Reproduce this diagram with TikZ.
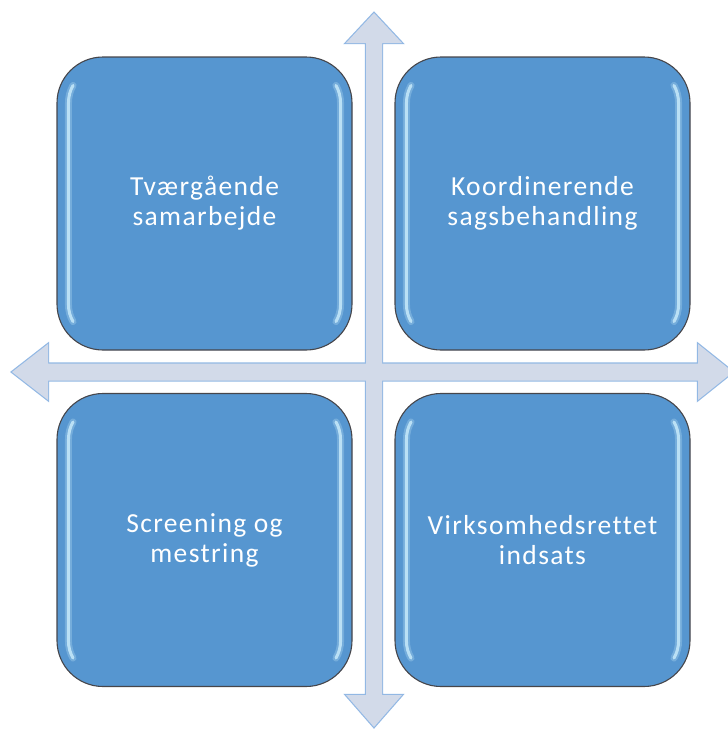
\documentclass[tikz,border=0pt]{standalone}
\usepackage{fontspec}
\setmainfont{Carlito}[LetterSpace=5, Ligatures={NoCommon}]
\definecolor{boxblue}{RGB}{86,150,208}
\definecolor{arrfill}{RGB}{210,218,233}
\definecolor{arredge}{RGB}{146,184,228}
\definecolor{shine}{RGB}{210,242,255}
\definecolor{rim}{RGB}{70,70,75}
\tikzset{
  gbox/.style={rectangle, rounded corners=46pt, minimum width=295pt, minimum height=293pt,
    fill=boxblue, draw=rim, line width=1.1pt, text=white, align=center, inner sep=0pt,
    font=\fontsize{27.5}{30}\selectfont},
  hl/.style={shine, line width=3pt, opacity=0.75, line cap=round},
  hlsoft/.style={shine, line width=7pt, opacity=0.25, line cap=round},
  arrline/.style={draw=arredge, line width=2.4pt, line join=miter},
  arrbody/.style={fill=arrfill}
}
\newcommand{\gelshine}[2]{%
  \draw[#2] ([shift={(16.6pt,-29pt)}]#1.north west) arc[start angle=150, end angle=180, radius=34pt]
     -- ([shift={(12pt,46pt)}]#1.south west) arc[start angle=180, end angle=210, radius=34pt];
  \draw[#2] ([shift={(-16.6pt,-29pt)}]#1.north east) arc[start angle=30, end angle=0, radius=34pt]
     -- ([shift={(-12pt,46pt)}]#1.south east) arc[start angle=0, end angle=-30, radius=34pt];
}
\begin{document}
\begin{tikzpicture}[x=1pt, y=-1pt]
\useasboundingbox (0,0) rectangle (728,729);
% cross of double arrows
\draw[arrline] (374,13) -- (402,43) -- (382,43) -- (382,695) -- (402,695) -- (374,727)
  -- (346,695) -- (366,695) -- (366,43) -- (346,43) -- cycle;
\draw[arrline] (12,372) -- (48,344) -- (48,363.5) -- (698,363.5) -- (698,344) -- (733,372)
  -- (698,400) -- (698,380.5) -- (48,380.5) -- (48,400) -- cycle;
\fill[arrbody] (374,13) -- (402,43) -- (382,43) -- (382,695) -- (402,695) -- (374,727)
  -- (346,695) -- (366,695) -- (366,43) -- (346,43) -- cycle;
\fill[arrbody] (12,372) -- (48,344) -- (48,363.5) -- (698,363.5) -- (698,344) -- (733,372)
  -- (698,400) -- (698,380.5) -- (48,380.5) -- (48,400) -- cycle;
% boxes
\node[gbox] (tl) at (204.5,203.5) {Tværgående\\samarbejde};
\node[gbox] (tr) at (542.5,203.5) {Koordinerende\\sagsbehandling};
\node[gbox] (bl) at (204.5,540) {Screening og\\mestring};
\node[gbox] (br) at (542.5,540) {Virksomhedsrettet\\indsats};
\foreach \b in {tl,tr,bl,br}{\gelshine{\b}{hlsoft}\gelshine{\b}{hl}}
\end{tikzpicture}
\end{document}
